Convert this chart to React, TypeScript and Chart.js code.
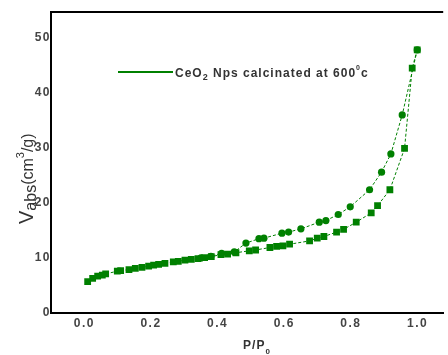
import React, { useEffect, useRef } from "react";
import { Chart, registerables } from "chart.js";

Chart.register(...registerables);

const xTickValues = [0, 0.2, 0.4, 0.6, 0.8, 1.0];
const yTickValues = [0, 10, 20, 30, 40, 50];

const adsorptionX = [0.01, 0.025, 0.04, 0.054, 0.064, 0.099, 0.109, 0.134, 0.153, 0.173, 0.193, 0.208, 0.223, 0.242, 0.267, 0.282, 0.302, 0.321, 0.341, 0.361, 0.381, 0.41, 0.43, 0.455, 0.495, 0.514, 0.557, 0.577, 0.596, 0.616, 0.676, 0.699, 0.719, 0.757, 0.778, 0.816, 0.861, 0.88, 0.917, 0.961, 0.984, 0.999];
const adsorptionY = [5.7, 6.3, 6.7, 6.9, 7.1, 7.6, 7.7, 7.9, 8.1, 8.3, 8.5, 8.7, 8.85, 9.0, 9.3, 9.4, 9.6, 9.75, 9.9, 10.05, 10.25, 10.6, 10.7, 10.95, 11.3, 11.45, 11.9, 12.1, 12.2, 12.5, 13.1, 13.6, 13.9, 14.7, 15.2, 16.5, 18.2, 19.5, 22.4, 29.9, 44.5, 47.8];

const desorptionX = [0.999, 0.954, 0.92, 0.892, 0.856, 0.798, 0.762, 0.725, 0.705, 0.65, 0.613, 0.593, 0.539, 0.524, 0.485, 0.45, 0.412, 0.38, 0.35];
const desorptionY = [47.8, 36.0, 28.9, 25.6, 22.4, 19.3, 17.9, 16.8, 16.5, 15.3, 14.7, 14.5, 13.6, 13.5, 12.7, 11.1, 10.85, 10.3, 10.0];

const legendLabel = ["CeO", "2", " Nps calcinated at 600", "0", "c"];
const xTitle = ["P/P", "0"];
const yTitle = ["V", "abs", "(cm", "3", "/g)"];

const GREEN = "#008000";
const TEXT = "#333333";
const FONT = "Liberation Sans, Arial, sans-serif";

const spacingPlugin = {
  id: "spacing",
  beforeDraw(chart: any) {
    try { (chart.ctx as any).letterSpacing = "1.5px"; } catch (e) {}
  },
  afterDatasetsDraw(chart: any) {
    try { (chart.ctx as any).letterSpacing = "0px"; } catch (e) {}
  },
};

const decorPlugin = {
  id: "decor",
  afterDraw(chart: any) {
    const { ctx, chartArea } = chart;
    ctx.save();
    // top border
    ctx.strokeStyle = "#000";
    ctx.lineWidth = 2;
    ctx.beginPath();
    ctx.moveTo(chartArea.left - 1, chartArea.top);
    ctx.lineTo(chartArea.right, chartArea.top);
    ctx.stroke();

    // legend
    ctx.strokeStyle = GREEN;
    ctx.lineWidth = 2;
    ctx.beginPath();
    ctx.moveTo(118, 72);
    ctx.lineTo(173, 72);
    ctx.stroke();
    ctx.fillStyle = TEXT;
    ctx.textBaseline = "alphabetic";
    ctx.textAlign = "left";
    try { (ctx as any).letterSpacing = "1px"; } catch (e) {}
    let x = 175;
    const base = 77;
    const parts: [string, number, number][] = [
      [legendLabel[0], 12, 0],
      [legendLabel[1], 9, 3],
      [legendLabel[2], 12, 0],
      [legendLabel[3], 7, -7],
      [legendLabel[4], 12, 0],
    ];
    for (const [t, s, dy] of parts) {
      ctx.font = `bold ${s}px ${FONT}`;
      ctx.fillText(t, x, base + dy);
      x += ctx.measureText(t).width;
    }

    // x title
    try { (ctx as any).letterSpacing = "1px"; } catch (e) {}
    ctx.font = `bold 12px ${FONT}`;
    const w1 = ctx.measureText(xTitle[0]).width;
    ctx.font = `bold 8px ${FONT}`;
    const w2 = ctx.measureText(xTitle[1]).width;
    let xs = 257 - (w1 + w2) / 2;
    ctx.font = `bold 12px ${FONT}`;
    ctx.fillText(xTitle[0], xs, 349);
    ctx.font = `bold 8px ${FONT}`;
    ctx.fillText(xTitle[1], xs + w1, 354);

    // y title
    ctx.translate(33, 224);
    ctx.rotate(-Math.PI / 2);
    const yParts: [string, number, number][] = [
      [yTitle[0], 20, 0],
      [yTitle[1], 16, 3],
      [yTitle[2], 16, 0],
      [yTitle[3], 11, -9],
      [yTitle[4], 16, 0],
    ];
    let p = 0;
    try { (ctx as any).letterSpacing = "0px"; } catch (e) {}
    for (const [t, s, dy] of yParts) {
      ctx.font = `${s}px ${FONT}`;
      ctx.fillText(t, p, dy);
      p += ctx.measureText(t).width;
    }
    ctx.restore();
  },
};

export default function App() {
  const ref = useRef<HTMLCanvasElement | null>(null);
  useEffect(() => {
    document.body.style.margin = "0";
    const canvas = ref.current!;
    const chart = new Chart(canvas, {
      type: "line",
      data: {
        datasets: [
          {
            label: "Adsorption",
            data: adsorptionX.map((x, i) => ({ x, y: adsorptionY[i] })),
            borderColor: GREEN,
            backgroundColor: GREEN,
            borderWidth: 1,
            borderDash: [3, 2],
            pointStyle: "rect",
            pointRadius: 4.8,
            pointBorderWidth: 0,
            tension: 0,
          },
          {
            label: "Desorption",
            data: desorptionX.map((x, i) => ({ x, y: desorptionY[i] })),
            borderColor: GREEN,
            backgroundColor: GREEN,
            borderWidth: 1,
            borderDash: [3, 2],
            pointStyle: "circle",
            pointRadius: 3.6,
            pointBorderWidth: 0,
            tension: 0,
          },
        ],
      },
      options: {
        animation: false,
        responsive: false,
        layout: { padding: { top: 12, left: 0, right: 0, bottom: 0 } },
        plugins: { legend: { display: false }, tooltip: { enabled: false } },
        scales: {
          x: {
            type: "linear",
            min: -0.1,
            max: 1.077,
            grid: { display: false, drawTicks: false },
            border: { display: true, color: "#000", width: 2 },
            afterBuildTicks: (scale: any) => {
              scale.ticks = xTickValues.map((v) => ({ value: v }));
            },
            afterFit: (scale: any) => {
              scale.height = 42;
            },
            ticks: {
              padding: 3,
              color: "#444",
              font: { family: FONT, size: 12, weight: "bold" },
              callback: (v: any) => Number(v).toFixed(1),
            },
          },
          y: {
            type: "linear",
            min: 0,
            max: 54.7,
            grid: { display: false, drawTicks: false },
            border: { display: true, color: "#000", width: 2 },
            afterBuildTicks: (scale: any) => {
              scale.ticks = yTickValues.map((v) => ({ value: v }));
            },
            afterFit: (scale: any) => {
              scale.width = 51;
            },
            ticks: {
              padding: 0,
              color: "#444",
              font: { family: FONT, size: 12, weight: "bold" },
              callback: (v: any) => String(v),
            },
          },
        },
      },
      plugins: [spacingPlugin, decorPlugin],
    } as any);
    return () => chart.destroy();
  }, []);
  return <canvas ref={ref} width={448} height={355} style={{ display: "block" }} />;
}
